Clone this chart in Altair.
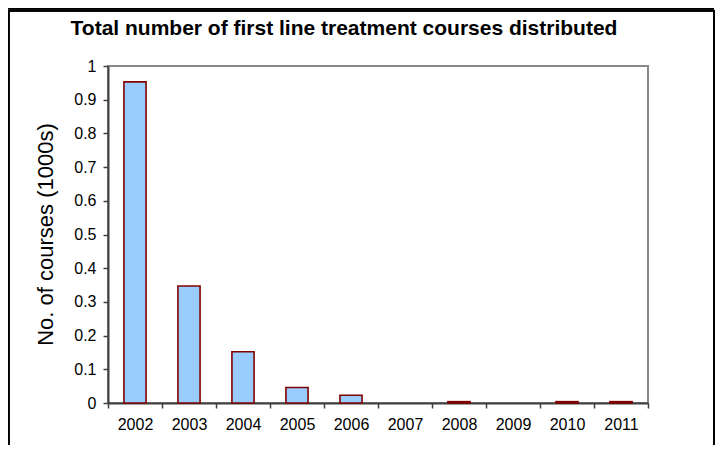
import altair as alt
import pandas as pd

years = ["2002", "2003", "2004", "2005", "2006", "2007", "2008", "2009", "2010", "2011"]
courses = [0.953, 0.347, 0.152, 0.046, 0.023, 0.0, 0.004, 0.0, 0.004, 0.004]
y_ticks = [0, 0.1, 0.2, 0.3, 0.4, 0.5, 0.6, 0.7, 0.8, 0.9, 1]

df = pd.DataFrame({"year": years, "courses": courses})
FONT = "Arial, Liberation Sans, sans-serif"

bars = alt.Chart(df).mark_bar(
    width=alt.RelativeBandSize(0.41),
    fill="#99CCFF",
    stroke="#800000",
    strokeWidth=1.6,
).encode(
    x=alt.X("year:N", sort=years, title=None,
            scale=alt.Scale(paddingInner=0, paddingOuter=0),
            axis=alt.Axis(labelAngle=0, tickBand="extent", tickSize=5,
                          labelPadding=8, labelFontSize=16, labelFont=FONT,
                          labelColor="#000", domainColor="#404040",
                          tickColor="#404040", domainWidth=2, tickWidth=1.5)),
    y=alt.Y("courses:Q", title="No. of courses (1000s)",
            scale=alt.Scale(domain=[0, 1], nice=False),
            axis=alt.Axis(values=y_ticks, format="~g", grid=False, tickSize=5,
                          labelPadding=7, labelFontSize=16, labelFont=FONT,
                          labelColor="#000", domainColor="#404040",
                          tickColor="#404040", domainWidth=2, tickWidth=1.5,
                          titleFont=FONT, titleFontSize=22, titleFontWeight="normal",
                          titleColor="#000", titleX=-63, titleY=168,
                          titleAngle=-90, titleAlign="center", titleBaseline="middle")),
    strokeOpacity=alt.condition("datum.courses > 0", alt.value(1), alt.value(0)),
)

# outer frame of the figure
frame_left = alt.Chart(df).mark_rule(color="#000", strokeWidth=1.5).encode(
    x=alt.value(-99.5), y=alt.value(-55.5), y2=alt.value(420))
frame_right = alt.Chart(df).mark_rule(color="#000", strokeWidth=1.5).encode(
    x=alt.value(606), y=alt.value(-55.5), y2=alt.value(420))
frame_top = alt.Chart(df).mark_rule(color="#000", strokeWidth=1.5).encode(
    x=alt.value(-99.5), x2=alt.value(606), y=alt.value(-55.5))
frame_top2 = alt.Chart(df).mark_rule(color="#000", strokeWidth=1.5).encode(
    x=alt.value(-100), x2=alt.value(606), y=alt.value(-58))

chart = alt.layer(bars, frame_left, frame_right, frame_top, frame_top2).properties(
    width=540,
    height=337,
    title=alt.TitleParams("Total number of first line treatment courses distributed",
                          font=FONT, fontSize=21, fontWeight="bold", color="#000",
                          anchor="middle", frame="group", dx=-34, offset=-32),
    autosize=alt.AutoSizeParams(type="none"),
    padding={"left": 100, "top": 58, "right": 67, "bottom": 42},
).configure_view(stroke="#888888", strokeWidth=2)

chart.save("out.html", embed_options={"renderer": "svg", "actions": False})
